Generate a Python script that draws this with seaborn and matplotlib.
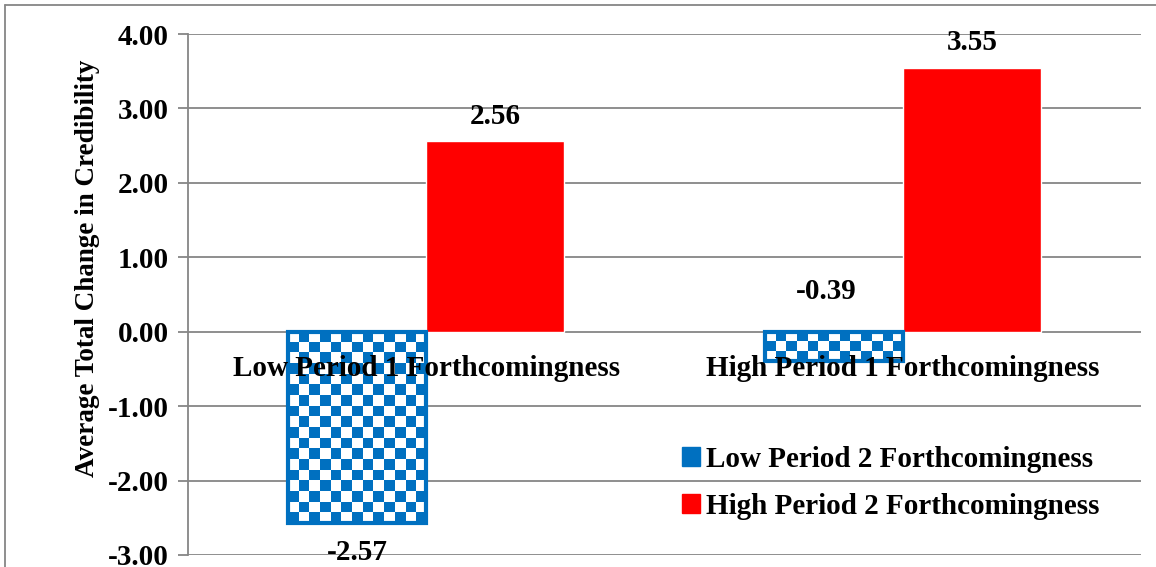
import numpy as np
import pandas as pd
import matplotlib
matplotlib.use("Agg")
import matplotlib.pyplot as plt
from matplotlib.colors import ListedColormap
from matplotlib.patches import Patch
from matplotlib.lines import Line2D
import seaborn as sns

# данные с графика
categories = ["Low Period 1 Forthcomingness", "High Period 1 Forthcomingness"]
groups = ["Low Period 2 Forthcomingness", "High Period 2 Forthcomingness"]
low_p2 = [-2.57, -0.39]
high_p2 = [2.56, 3.55]
y_ticks = [-3, -2, -1, 0, 1, 2, 3, 4]

blue = "#0070C0"
red = "#FF0000"
grey = "#868686"
fs = 21

df = pd.DataFrame({
    "category": categories * 2,
    "group": [groups[0]] * 2 + [groups[1]] * 2,
    "value": low_p2 + high_p2,
})

sns.set_style("white")
plt.rcParams["font.family"] = ["Liberation Serif", "DejaVu Serif"]
plt.rcParams["font.weight"] = "bold"
plt.rcParams["text.color"] = "black"
plt.rcParams["axes.labelcolor"] = "black"
plt.rcParams["xtick.color"] = "black"
plt.rcParams["ytick.color"] = "black"

fig = plt.figure(figsize=(11.56, 5.67), dpi=100)
ax = fig.add_axes([0.1626, 0.0212, 0.8244, 0.9188])

sns.barplot(data=df, x="category", y="value", hue="group", hue_order=groups,
            palette=[blue, red], width=0.58, saturation=1, errorbar=None,
            legend=False, ax=ax)

ax.set_xlim(-0.5, 1.5)
ax.set_ylim(-3, 4)
ax.set_yticks(y_ticks)
ax.set_yticklabels(["{:.2f}".format(v) for v in y_ticks])

# оси и сетка
for s in ["top", "right", "bottom"]:
    ax.spines[s].set_visible(False)
ax.spines["left"].set_color(grey)
ax.spines["left"].set_linewidth(1.3)
ax.spines["bottom"].set_position(("data", 0))
ax.grid(axis="y", color=grey, linewidth=1.3)
ax.grid(axis="x", visible=False)
ax.tick_params(axis="y", left=True, length=7, width=1.3, color=grey, pad=7,
               labelsize=fs, labelcolor="black")
ax.tick_params(axis="x", bottom=False, length=0, pad=17, labelsize=fs,
               labelcolor="black")
ax.yaxis.set_zorder(0.5)
ax.xaxis.set_zorder(5)
for lab in ax.get_xticklabels() + ax.get_yticklabels():
    lab.set_fontweight("bold")

ax.set_xlabel("")
ax.set_ylabel("Average Total Change in Credibility", fontsize=19.5, fontweight="bold")
ax.yaxis.set_label_coords(-0.0923, 0.551)

# клетчатая заливка синих столбиков
cmap = ListedColormap(["white", blue])
for bar in ax.containers[0]:
    x0, y0 = bar.get_x(), bar.get_y()
    x1, y1 = x0 + bar.get_width(), y0 + bar.get_height()
    p0 = ax.transData.transform((x0, min(y0, y1)))
    p1 = ax.transData.transform((x1, max(y0, y1)))
    nx = max(int(round(abs(p1[0] - p0[0]) / 10.5)), 1)
    ny = max(int(round(abs(p1[1] - p0[1]) / 10.5)), 1)
    checker = (np.indices((ny, nx)).sum(axis=0) % 2)
    im = ax.imshow(checker, cmap=cmap, extent=(x0, x1, min(y0, y1), max(y0, y1)),
                   interpolation="nearest", aspect="auto", zorder=1.2)
    im.set_clip_path(bar)
    bar.set_facecolor("none")
    bar.set_edgecolor(blue)
    bar.set_linewidth(3)
    bar.set_zorder(1.4)

ax.set_xlim(-0.5, 1.5)
ax.set_ylim(-3, 4)

# подписи значений
for cont, vals in zip(ax.containers, [low_p2, high_p2]):
    for bar, v in zip(cont, vals):
        xc = bar.get_x() + bar.get_width() / 2
        if v >= 0:
            ax.annotate("{:.2f}".format(v), (xc, v), xytext=(0, 8),
                        textcoords="offset points", ha="center", va="bottom",
                        fontsize=fs, fontweight="bold")
        elif v > -1:
            ax.annotate("{:.2f}".format(v), (xc - 0.015, 0), xytext=(0, 19),
                        textcoords="offset points", ha="center", va="bottom",
                        fontsize=fs, fontweight="bold")
        else:
            ax.annotate("{:.2f}".format(v), (xc, v), xytext=(0, -11.5),
                        textcoords="offset points", ha="center", va="top",
                        fontsize=fs, fontweight="bold")

# легенда
handles = [Patch(facecolor=blue, edgecolor=blue), Patch(facecolor=red, edgecolor=red)]
ax.legend(handles, groups, loc="center left", bbox_to_anchor=(0.518, 0.138),
          frameon=False, handlelength=0.62, handleheight=0.62,
          handletextpad=0.2, labelspacing=0.68, borderpad=0, borderaxespad=0,
          prop={"weight": "bold", "size": fs})

# рамка вокруг картинки
fig.add_artist(Line2D([5 / 1156, 5 / 1156], [0, 1 - 5 / 567], color=grey, lw=1.3))
fig.add_artist(Line2D([5 / 1156, 1], [1 - 5 / 567, 1 - 5 / 567], color=grey, lw=1.3))

fig.savefig("out.png", dpi=100)
